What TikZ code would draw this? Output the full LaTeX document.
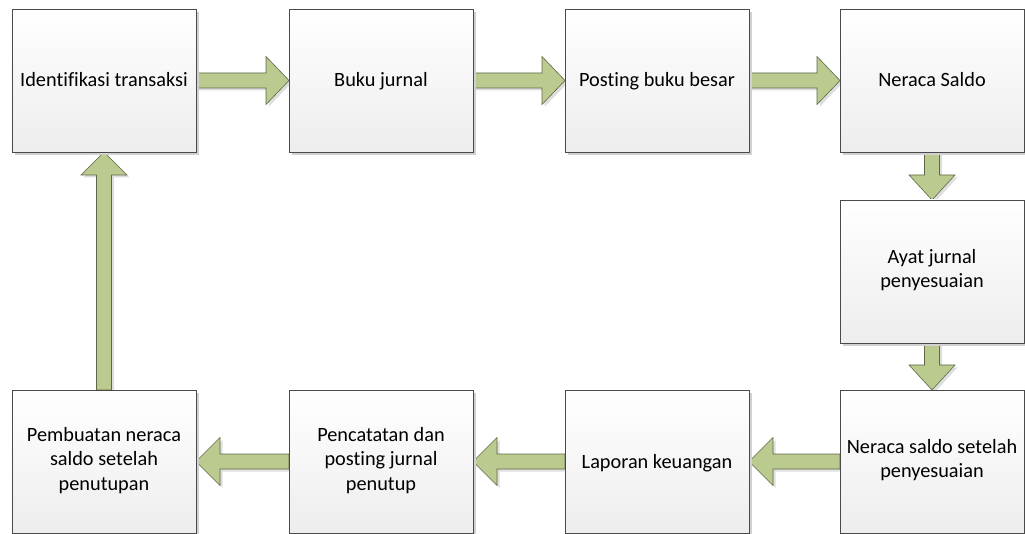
\documentclass[tikz,border=0pt]{standalone}
\usepackage{fontspec}
\setmainfont[Ligatures=NoCommon]{Carlito}
\usetikzlibrary{calc,shadows}
\definecolor{arrgreen}{HTML}{BBCA8E}
\definecolor{arrline}{HTML}{5E6848}
\definecolor{boxline}{HTML}{4A4A4A}
\newcommand\boxstrut{\rule[-6pt]{0pt}{25pt}}
\tikzset{
  stepbox/.style={draw=boxline, line width=0.8pt, minimum width=184pt, minimum height=143pt,
    inner sep=0pt, outer sep=0pt, align=center, top color=white, bottom color=black!7,
    font=\fontsize{20.3pt}{24.5pt}\selectfont,
    execute at begin node=\boxstrut, execute at end node=\boxstrut,
    drop shadow={shadow xshift=3pt, shadow yshift=-3pt, fill=black!18, opacity=1}},
  garrow/.style={draw=arrline, line width=0.6pt, fill=arrgreen, line join=miter,
    drop shadow={shadow xshift=2.5pt, shadow yshift=-2.5pt, fill=black!13, opacity=1}}
}
\newcommand\arrR[2]{\draw[garrow] ($(#1.east)+(0pt,7.5pt)$) -- ($(#2.west)+(-23pt,7.5pt)$) -- ($(#2.west)+(-23pt,24pt)$) -- (#2.west) -- ($(#2.west)+(-23pt,-24pt)$) -- ($(#2.west)+(-23pt,-7.5pt)$) -- ($(#1.east)+(0pt,-7.5pt)$) -- cycle;}
\newcommand\arrL[2]{\draw[garrow] ($(#1.west)+(0pt,7.5pt)$) -- ($(#2.east)+(24pt,7.5pt)$) -- ($(#2.east)+(24pt,24pt)$) -- (#2.east) -- ($(#2.east)+(24pt,-24pt)$) -- ($(#2.east)+(24pt,-7.5pt)$) -- ($(#1.west)+(0pt,-7.5pt)$) -- cycle;}
\newcommand\arrD[2]{\draw[garrow] ($(#1.south)+(-7.5pt,0pt)$) -- ($(#2.north)+(-7.5pt,25pt)$) -- ($(#2.north)+(-23pt,25pt)$) -- (#2.north) -- ($(#2.north)+(23pt,25pt)$) -- ($(#2.north)+(7.5pt,25pt)$) -- ($(#1.south)+(7.5pt,0pt)$) -- cycle;}
\newcommand\arrU[2]{\draw[garrow] ($(#1.north)+(-7.5pt,0pt)$) -- ($(#2.south)+(-7.5pt,-23pt)$) -- ($(#2.south)+(-23pt,-23pt)$) -- (#2.south) -- ($(#2.south)+(23pt,-23pt)$) -- ($(#2.south)+(7.5pt,-23pt)$) -- ($(#1.north)+(7.5pt,0pt)$) -- cycle;}
\begin{document}
\begin{tikzpicture}[x=1pt,y=-1pt]
\useasboundingbox (0,0) rectangle (1025,534);
\coordinate (c1) at (104,80.5);
\coordinate (c2) at (381,80.5);
\coordinate (c3) at (657,80.5);
\coordinate (c4) at (932,80.5);
\coordinate (c5) at (932,271.5);
\coordinate (c6) at (932,461.5);
\coordinate (c7) at (657,461.5);
\coordinate (c8) at (381,461.5);
\coordinate (c9) at (104,461.5);
\foreach \i in {1,...,9} \path (c\i) node[minimum width=184pt, minimum height=143pt, inner sep=0pt, outer sep=0pt] (b\i) {};
\arrR{b1}{b2}
\arrR{b2}{b3}
\arrR{b3}{b4}
\arrD{b4}{b5}
\arrD{b5}{b6}
\arrL{b6}{b7}
\arrL{b7}{b8}
\arrL{b8}{b9}
\arrU{b9}{b1}
\node[stepbox] (n1) at (c1) {Identifikasi transaksi};
\node[stepbox] (n2) at (c2) {Buku jurnal};
\node[stepbox] (n3) at (c3) {Posting buku besar};
\node[stepbox] (n4) at (c4) {Neraca Saldo};
\node[stepbox] (n5) at (c5) {Ayat jurnal\\penyesuaian};
\node[stepbox] (n6) at (c6) {Neraca saldo setelah\\penyesuaian};
\node[stepbox] (n7) at (c7) {Laporan keuangan};
\node[stepbox] (n8) at (c8) {Pencatatan dan\\posting jurnal\\penutup};
\node[stepbox] (n9) at (c9) {Pembuatan neraca\\saldo setelah\\penutupan};
\end{tikzpicture}
\end{document}
